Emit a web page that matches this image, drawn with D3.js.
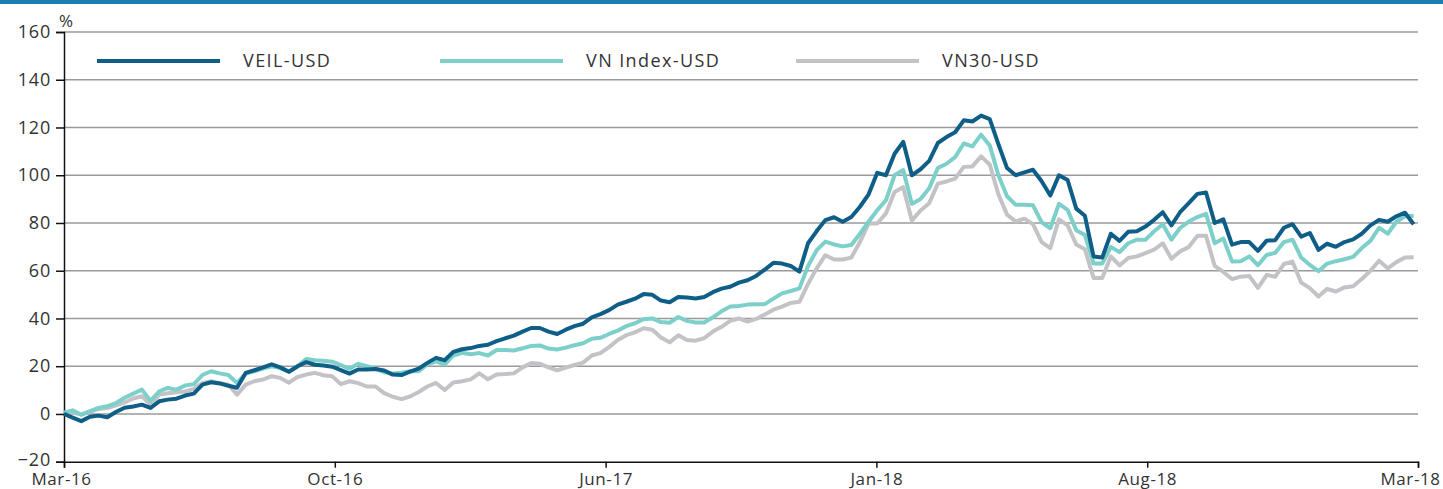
<!DOCTYPE html>
<html>
<head>
<meta charset="utf-8">
<script src="https://cdn.jsdelivr.net/npm/d3@7"></script>
<style>
  body { margin: 0; background: #fff; }
  svg text { font-family: "Open Sans", sans-serif; fill: #333; }
</style>
</head>
<body>
<svg id="chart" width="1443" height="489"></svg>
<script>
const MARGIN = {top: 32, right: 25, bottom: 27.3, left: 64}
const WIDTH = 1443
const HEIGHT = 489

// weekly observations, % change since Mar-16
const veil = [
    0, -1.5, -3, -1.2, -0.7, -1.4, 0.8, 2.6, 3.1, 3.9, 2.5, 5.3, 6, 6.4, 7.7, 8.5, 12.3, 13.3, 12.8, 11.8, 11, 17.2, 18.3, 19.5, 20.8, 19.5, 17.7,
    20, 21.7, 20.6, 20.3, 19.8, 18.4, 16.9, 18.6, 18.6, 18.8, 18.2, 16.5, 16.3, 17.7, 19, 21.4, 23.5, 22.5, 26, 27.1, 27.6, 28.5, 29, 30.5, 31.7, 32.8,
    34.5, 36, 36, 34.5, 33.5, 35.3, 36.8, 37.8, 40.5, 41.8, 43.5, 45.8, 47, 48.3, 50.2, 49.9, 47.5, 46.8, 49, 48.8, 48.4, 49, 51, 52.5, 53.3, 55,
    56, 57.8, 60.5, 63.3, 63, 62, 59.6, 71.5, 76.6, 81.2, 82.4, 80.5, 82.5, 86.8, 92, 101, 100, 109, 114, 100,
    102.5, 106, 113.5, 116, 118, 123, 122.5, 125, 123.5, 113, 103, 100, 101.2, 102.3, 97.5, 91.5, 100, 98, 86, 83, 66,
    65.5, 75.5, 72.5, 76.3, 76.5, 78.5, 81.3, 84.5, 79, 84.5, 88.3, 92.2, 92.8, 80, 81.5, 70.9, 72, 72, 68.3,
    72.6, 72.8, 78, 79.5, 74.3, 75.8, 68.7, 71.3, 70, 72, 73.1, 75.5, 79, 81.3, 80.5, 82.8, 84.3, 79.5
]
const vnIndex = [
    0.5, 1.5, -0.3, 1.2, 2.5, 3.2, 4.5, 6.8, 8.5, 10.2, 5.5, 9.5, 10.9, 10.2, 11.9, 12.5, 16.3, 17.9, 17, 16.3, 13, 16.9, 17.9, 19, 20, 19.2, 17.6,
    20, 23, 22.5, 22.3, 21.9, 20.5, 18.9, 21, 20, 19, 17.5, 16.9, 17.3, 17.9, 17.9, 20.7, 22, 20.7, 24.5, 25.6, 25, 25.5, 24.5, 26.8, 26.8, 26.6,
    27.5, 28.5, 28.7, 27.4, 27, 27.8, 28.8, 29.6, 31.5, 31.9, 33.5, 34.9, 36.8, 38, 39.7, 40, 38.5, 38.2, 40.6, 39, 38.3, 38.3, 40.5, 43, 45, 45.2,
    45.8, 46, 46, 48.3, 50.5, 51.5, 52.6, 62, 68.6, 72.2, 71, 70.2, 70.8, 75.5, 80.5, 85.4, 89.5, 100, 102.2, 88,
    90, 94.5, 103, 104.8, 107.6, 113.3, 112.1, 117, 112.5, 100, 91.2, 87.6, 87.6, 87.4, 80.3, 77.8, 88, 85.5, 77, 75, 63,
    63, 70, 67.8, 71.5, 73, 73, 76.5, 79.5, 73, 77.9, 80.6, 82.5, 83.8, 71.5, 73.5, 63.9, 64, 66, 62.3,
    66.6, 67.5, 72, 73, 65.5, 62.4, 59.8, 63, 64, 64.8, 65.8, 69.5, 72.5, 78, 75.5, 80.5, 82.8, 83
]
const vn30 = [
    0.4, 0.6, -0.3, 0.9, 2.1, 2.5, 3.6, 4.8, 6.5, 7.4, 3.9, 8.1, 8.7, 9.1, 9.4, 10.5, 13, 13.7, 13, 12.3, 8.1, 12.3, 13.7, 14.4, 15.8, 15.1, 13.1,
    15.5, 16.5, 17.2, 16.2, 15.8, 12.5, 13.7, 12.9, 11.5, 11.5, 8.7, 7.2, 6.2, 7.3, 9.2, 11.5, 13, 10, 13.2, 13.7, 14.5, 17, 14.5, 16.5, 16.7, 17,
    19.5, 21.3, 21, 19.5, 18.3, 19.4, 20.5, 21.5, 24.5, 25.5, 28, 31, 33, 34.2, 35.9, 35.3, 32, 30, 33, 31, 30.7, 31.8, 34.5, 36.5, 39, 40,
    38.7, 39.8, 41.7, 43.7, 45, 46.5, 47, 54.5, 61, 66.5, 64.7, 64.7, 65.5, 72, 79.8, 79.8, 84, 93, 95, 81,
    85.2, 88.3, 96.5, 97.4, 98.6, 103.5, 103.7, 107.9, 104.5, 92, 83.5, 80.6, 81.8, 79.5, 72, 69.5, 81.5, 79, 71, 69, 57,
    57, 66, 62.2, 65.3, 66, 67.4, 68.8, 71.5, 65, 68.1, 69.9, 74.6, 74.6, 62, 59.5, 56.5, 57.5, 57.8, 52.8,
    58.2, 57.5, 62.8, 63.8, 55, 52.7, 49.2, 52.4, 51.3, 53, 53.5, 56.5, 60, 64.2, 61, 63.6, 65.5, 65.6
]

const xTickLabels = ['Mar-16', 'Oct-16', 'Jun-17', 'Jan-18', 'Aug-18', 'Mar-18']
const xTickWeeks = [0, 31.3, 62.6, 93.9, 125.2, 156.5]
const yTicks = [-20, 0, 20, 40, 60, 80, 100, 120, 140, 160]

const seriesNames = ['VEIL-USD', 'VN Index-USD', 'VN30-USD']
const seriesColors = ['#0e5e88', '#7dcfca', '#c3c3c7']

let svg = d3.select('#chart')

// top rule
svg.append('rect')
    .attr('x', 0)
    .attr('y', 0)
    .attr('width', WIDTH)
    .attr('height', 4)
    .attr('fill', '#1a80b4')

let x = d3.scaleLinear()
    .domain([0, 156.5])
    .range([MARGIN.left, WIDTH - MARGIN.right])

let y = d3.scaleLinear()
    .domain([-20, 160])
    .range([HEIGHT - MARGIN.bottom, MARGIN.top])

// gridlines
svg.append('g')
    .selectAll('line')
    .data(yTicks.filter(d => d > -20))
    .join('line')
    .attr('x1', MARGIN.left)
    .attr('x2', WIDTH - MARGIN.right)
    .attr('y1', d => y(d))
    .attr('y2', d => y(d))
    .attr('stroke', '#9a9a9a')
    .attr('stroke-width', 1.5)

// y axis
let yAxis = svg.append('g')
    .attr('transform', 'translate(' + MARGIN.left + ',0)')
    .call(d3.axisLeft(y).tickValues(yTicks).tickSize(8).tickPadding(5))
yAxis.select('.domain').attr('stroke', '#111').attr('stroke-width', 1.5)
yAxis.selectAll('.tick line').attr('stroke', '#111').attr('stroke-width', 1.5)
yAxis.selectAll('.tick text')
    .style('font-size', '18px')
    .style('letter-spacing', '0.8px')
    .style('font-family', '"Open Sans", sans-serif')
    .attr('fill', '#333')
    .attr('dy', d => d === -20 ? '0.2em' : '0.32em')

svg.append('text')
    .attr('x', 66)
    .attr('y', 27)
    .attr('text-anchor', 'middle')
    .style('font-size', '17px')
    .text('%')

// x axis
let xAxis = svg.append('g')
    .attr('transform', 'translate(0,' + y(-20) + ')')
    .call(d3.axisBottom(x)
        .tickValues(xTickWeeks)
        .tickFormat((d, i) => xTickLabels[i])
        .tickSize(6)
        .tickPadding(5))
xAxis.select('.domain').attr('stroke', '#111').attr('stroke-width', 1.5)
xAxis.selectAll('.tick line').attr('stroke', '#111').attr('stroke-width', 1.5)
xAxis.selectAll('.tick text')
    .style('font-size', '17px')
    .style('letter-spacing', '0.6px')
    .style('font-family', '"Open Sans", sans-serif')
    .attr('fill', '#333')
    .attr('dx', (d, i) => i === 0 ? -3 : (i === xTickLabels.length - 1 ? -8 : 0))

// lines, grey drawn first so the dark one sits on top
let seriesData = [veil, vnIndex, vn30]
let line = d3.line()
    .x((d, i) => x(i))
    .y(d => y(d))

;[2, 1, 0].forEach(k => {
    svg.append('path')
        .datum(seriesData[k])
        .attr('d', line)
        .attr('fill', 'none')
        .attr('stroke', seriesColors[k])
        .attr('stroke-width', 4)
        .attr('stroke-linejoin', 'round')
})

// legend
let legendX = [97, 440, 796]
let legend = svg.append('g')
    .selectAll('g')
    .data(seriesNames)
    .join('g')
    .attr('transform', (d, i) => 'translate(' + legendX[i] + ',61)')

legend.append('line')
    .attr('x1', 0)
    .attr('x2', 123)
    .attr('stroke', (d, i) => seriesColors[i])
    .attr('stroke-width', 4)

legend.append('text')
    .attr('x', 146)
    .attr('y', 6)
    .style('font-size', '18px')
    .style('letter-spacing', '1.4px')
    .text(d => d)
</script>
</body>
</html>
